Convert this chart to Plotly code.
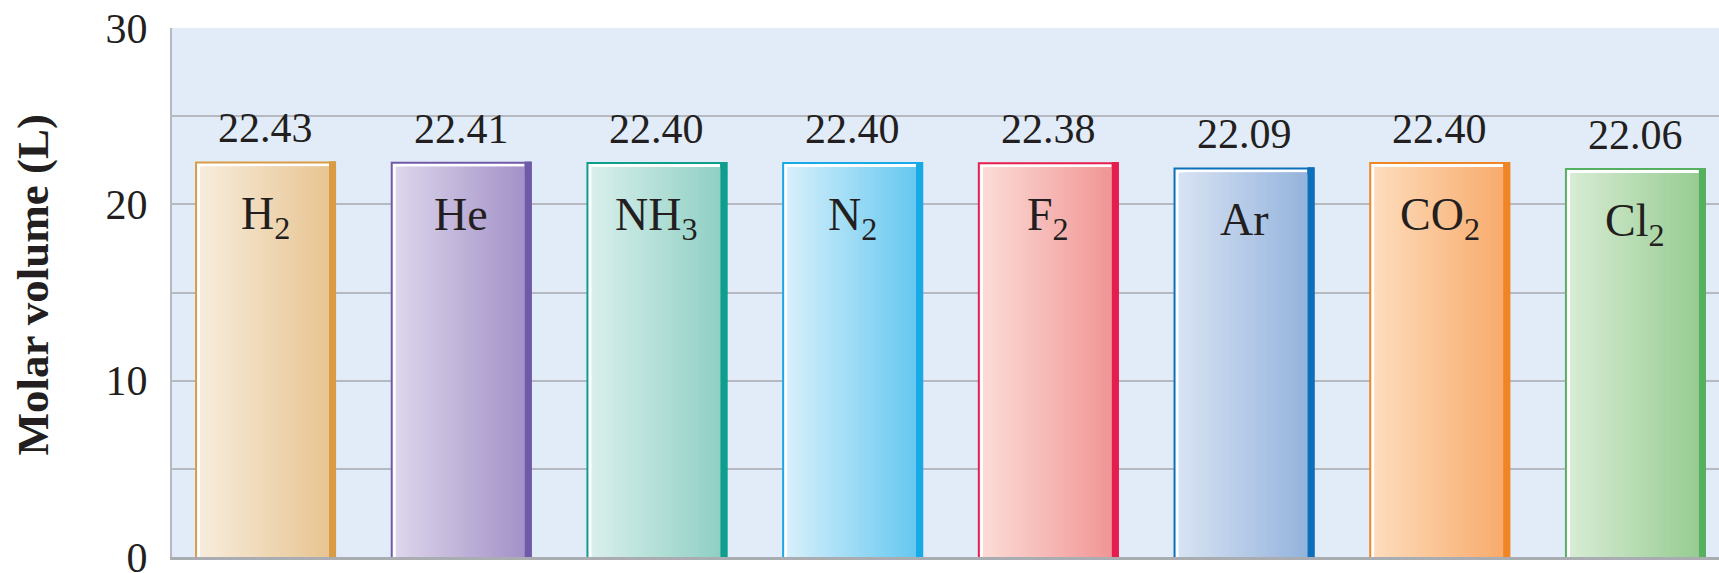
import plotly.graph_objects as go

# Molar volume of several gases at STP
gases = ["H2", "He", "NH3", "N2", "F2", "Ar", "CO2", "Cl2"]
gas_labels = ["H<sub>2</sub>", "He", "NH<sub>3</sub>", "N<sub>2</sub>",
              "F<sub>2</sub>", "Ar", "CO<sub>2</sub>", "Cl<sub>2</sub>"]
molar_volume = [22.43, 22.41, 22.40, 22.40, 22.38, 22.09, 22.40, 22.06]
y_tick_vals = [0, 5, 10, 15, 20, 25, 30]
y_tick_text = ["0", "", "10", "", "20", "", "30"]

# (edge, gradient light, gradient dark) for each gas
edge_colors = ["#d99c45", "#6f5aa8", "#0f9e8e", "#18a9e6",
               "#e61e4d", "#0b6fba", "#f08526", "#55b060"]
light_colors = ["#f7ecdc", "#ddd6eb", "#d9efec", "#d6effb",
                "#fcdcd6", "#d8e3f3", "#fddcbc", "#d7ecd4"]
dark_colors = ["#e8c592", "#a391c8", "#8fd0c4", "#66c8f0",
               "#f09595", "#94b3dc", "#f8ab6c", "#97cc92"]

W, H = 1719, 573
M_L, M_T, M_B, M_R = 172, 28, 16, 0
X_RANGE = [-0.478, 7.427]
Y_RANGE = [0, 30]
px_x = (W - M_L - M_R) / (X_RANGE[1] - X_RANGE[0])
px_y = (H - M_T - M_B) / (Y_RANGE[1] - Y_RANGE[0])

FONT = "Liberation Serif"
TEXT = "#231f20"
BAR_W = 0.7205
LEFT = -BAR_W / 2
EDGE = 2 / px_x        # coloured outline
HILITE = 3 / px_x      # white highlight
SIDE = 7 / px_x        # darker right side
EDGE_Y = 2 / px_y
HILITE_Y = 3 / px_y


def hex_rgb(h):
    h = h.lstrip("#")
    return tuple(int(h[i:i + 2], 16) for i in (0, 2, 4))


def mix(c1, c2, t):
    a, b = hex_rgb(c1), hex_rgb(c2)
    return "rgb(%d,%d,%d)" % tuple(round(a[k] + (b[k] - a[k]) * t) for k in range(3))


fig = go.Figure()


def add_layer(offset, width, ys, colors):
    fig.add_trace(go.Bar(
        x=gases, y=ys, offset=offset, width=width,
        marker=dict(color=colors, line=dict(width=0)),
        hoverinfo="skip", showlegend=False,
    ))


# outline
add_layer(LEFT, BAR_W, molar_volume, edge_colors)
# white highlight on left and top
add_layer(LEFT + EDGE, BAR_W - EDGE - SIDE, [v - EDGE_Y for v in molar_volume],
          ["#ffffff"] * len(gases))
# left-to-right gradient body; each strip runs under the next one so no seams show
n_strips = 40
body_left = LEFT + EDGE + HILITE
body_w = BAR_W - EDGE - HILITE - SIDE
strip_w = body_w / n_strips
body_top = [v - EDGE_Y - HILITE_Y for v in molar_volume]
for i in range(n_strips):
    t = (i + 0.5) / n_strips
    w = strip_w * (3 if i < n_strips - 1 else 1)
    w = min(w, body_w - i * strip_w)
    add_layer(body_left + i * strip_w, w, body_top,
              [mix(l, d, t) for l, d in zip(light_colors, dark_colors)])
# darker right side
add_layer(LEFT + BAR_W - SIDE, SIDE, molar_volume, edge_colors)

# bevel at the top-right corner of each bar
for i, v in enumerate(molar_volume):
    x1 = i + LEFT + BAR_W
    x0 = x1 - SIDE
    y1 = v
    y0 = v - (SIDE * px_x) / px_y
    fig.add_shape(type="path", xref="x", yref="y",
                  path=f"M {x0},{y1} L {x1},{y1} L {x0},{y0} Z",
                  fillcolor=edge_colors[i], line=dict(width=0), layer="above")

# value labels above the bars and gas names inside
for g, lab, v in zip(gases, gas_labels, molar_volume):
    fig.add_annotation(x=g, y=v, text=f"{v:.2f}", showarrow=False,
                       yanchor="bottom", yshift=8,
                       font=dict(family=FONT, size=42, color=TEXT))
    fig.add_annotation(x=g, y=v, text=lab, showarrow=False,
                       yanchor="top", yshift=-25,
                       font=dict(family=FONT, size=46, color=TEXT))

# y-axis title
fig.add_annotation(xref="paper", yref="paper",
                   x=(33 - M_L) / (W - M_L - M_R), y=0.515,
                   text="<b>Molar volume (L)</b>", textangle=-90,
                   showarrow=False, xanchor="center", yanchor="middle",
                   font=dict(family=FONT, size=45, color=TEXT))

fig.update_layout(
    width=W, height=H,
    margin=dict(l=M_L, r=M_R, t=M_T, b=M_B, pad=0, autoexpand=False),
    paper_bgcolor="white", plot_bgcolor="#e2ecf8",
    barmode="overlay",
    xaxis=dict(type="category", range=X_RANGE, showgrid=False,
               showticklabels=False, zeroline=False, automargin=False,
               showline=True, linecolor="#a9adb2", linewidth=3),
    yaxis=dict(range=Y_RANGE, tickvals=y_tick_vals, ticktext=y_tick_text,
               showgrid=True, gridcolor="#b6bac0", gridwidth=2,
               zeroline=False, showline=True, linecolor="#b6bac0", linewidth=2,
               ticks="", ticklabelstandoff=14, ticklabeloverflow="allow",
               automargin=False,
               tickfont=dict(family=FONT, size=42, color=TEXT)),
)

fig.write_html("out.html")
